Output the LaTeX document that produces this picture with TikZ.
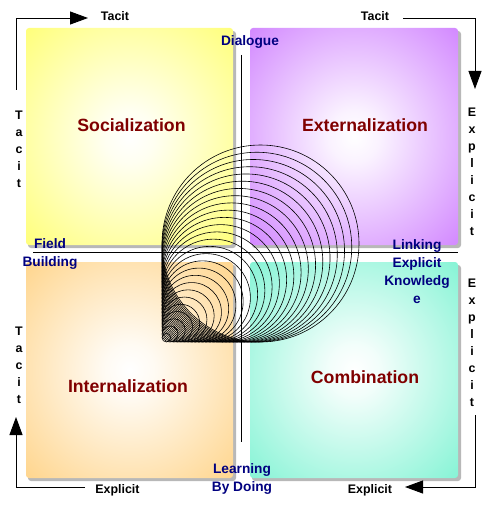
\documentclass[tikz,border=0pt]{standalone}
\usepackage{fontspec}
\setmainfont{Liberation Sans}
\usetikzlibrary{arrows.meta}

\definecolor{titlered}{RGB}{128,0,0}
\definecolor{labelblue}{RGB}{0,0,128}
\definecolor{socyellow}{RGB}{255,255,80}
\definecolor{extpurple}{RGB}{196,98,255}
\definecolor{intorange}{RGB}{255,200,105}
\definecolor{combteal}{RGB}{95,240,200}

% one soft glow per quadrant, white in the middle
\pgfdeclareradialshading{socglow}{\pgfpointorigin}{color(0bp)=(white); color(6bp)=(white!92!socyellow); color(46bp)=(socyellow); color(70bp)=(socyellow)}
\pgfdeclareradialshading{extglow}{\pgfpointorigin}{color(0bp)=(white); color(6bp)=(white!92!extpurple); color(46bp)=(extpurple); color(70bp)=(extpurple)}
\pgfdeclareradialshading{intglow}{\pgfpointorigin}{color(0bp)=(white); color(6bp)=(white!92!intorange); color(46bp)=(intorange); color(70bp)=(intorange)}
\pgfdeclareradialshading{combglow}{\pgfpointorigin}{color(0bp)=(white); color(6bp)=(white!92!combteal); color(46bp)=(combteal); color(70bp)=(combteal)}

\tikzset{
  quad/.style={rounded corners=3pt, shading=#1},
  quadshadow/.style={rounded corners=3pt, fill=black!28},
  quadtitle/.style={text=titlered, font=\fontsize{17.7}{20}\selectfont\bfseries},
  modelabel/.style={text=labelblue, align=center, inner sep=0pt,
    font=\fontsize{13.7}{18}\selectfont\bfseries},
  axis/.style={font=\fontsize{12.4}{14}\selectfont\bfseries, inner sep=0pt},
  stacked/.style={font=\fontsize{12.4}{17}\selectfont\bfseries, align=center, inner sep=0pt},
  flow/.style={line width=0.9pt, -{Triangle[length=18pt,width=13pt]}},
}

\begin{document}
\begin{tikzpicture}[x=1pt,y=-1pt]
  \useasboundingbox (0,0) rectangle (490,505);
  \fill[white] (0,0) rectangle (490,505);

  % the four quadrants
  \fill[quadshadow] (28,31) rectangle (236,248);
  \fill[quadshadow] (252,31) rectangle (461,248);
  \fill[quadshadow] (28,265) rectangle (236,481);
  \fill[quadshadow] (252,265) rectangle (461,481);
  \shade[quad=socglow] (26,28) rectangle (233,245);
  \shade[quad=extglow] (250,28) rectangle (458,245);
  \shade[quad=intglow] (26,262) rectangle (233,478);
  \shade[quad=combglow] (250,262) rectangle (458,478);

  \node[quadtitle] (soc) at (131.5,125) {Socialization};
  \node[quadtitle] (ext) at (365,125) {Externalization};
  \node[quadtitle] (int) at (128,386) {Internalization};
  \node[quadtitle] (comb) at (365,377) {Combination};

  % cross lines
  \node[modelabel] (dialogue) at (250,42) {Dialogue};
  \node[modelabel] (learning) at (242,479) {Learning\\By Doing};
  \node[modelabel] (field) at (50,254) {Field\\Building};
  \node[modelabel] (linking) at (417,272) {Linking\\Explicit\\Knowledg\\e};
  \coordinate (vtop) at (241.5,55);
  \coordinate (vbot) at (241.5,442);
  \coordinate (hleft) at (33,252.5);
  \coordinate (hright) at (458,252.5);
  \draw[line width=0.8pt] (vtop) -- (vbot);
  \draw[line width=0.8pt] (hleft) -- (hright);

  % nested circles, all touching the left and bottom lines
  \foreach \i in {0,...,26} {
    \pgfmathsetmacro\rr{98.5-3.62*\i}
    \draw[line width=0.6pt] ({162+\rr},{342-\rr}) circle (\rr pt);
  }

  % outer axes
  \node[axis] (tacitTL) at (115,16) {Tacit};
  \node[axis] (tacitTR) at (375,16) {Tacit};
  \node[axis] (explBL) at (117.5,490) {Explicit};
  \node[axis] (explBR) at (370,490) {Explicit};
  \node[stacked] (tacitL1) at (19,149) {T\\a\\c\\i\\t};
  \node[stacked] (tacitL2) at (19,365) {T\\a\\c\\i\\t};
  \node[stacked] (explR1) at (472,172) {E\\x\\p\\l\\i\\c\\i\\t};
  \node[stacked] (explR2) at (472,343) {E\\x\\p\\l\\i\\c\\i\\t};

  \coordinate (tlStart) at (16,90);
  \coordinate (trStart) at (403,18);
  \coordinate (brStart) at (475,415);
  \coordinate (blStart) at (85,487);
  \draw[flow] (tlStart) |- (88,18);
  \draw[flow] (trStart) -| (475,89);
  \draw[flow] (brStart) |- (405,487);
  \draw[flow] (blStart) -| (16,417);
\end{tikzpicture}
\end{document}
